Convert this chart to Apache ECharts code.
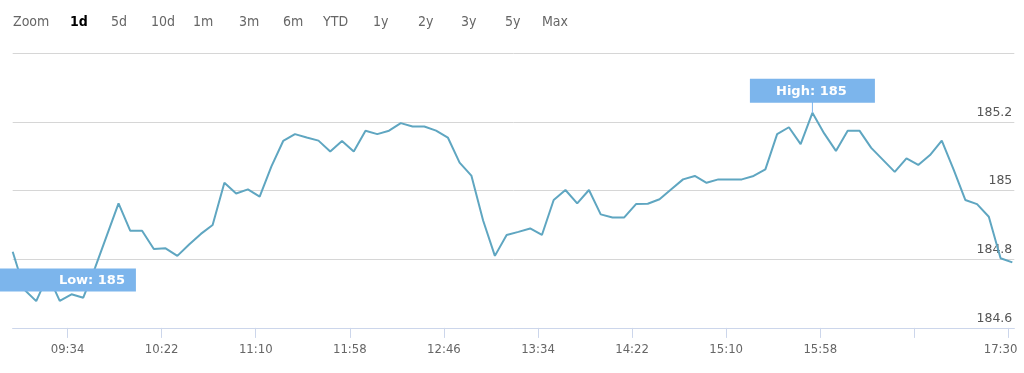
<!DOCTYPE html>
<html>
<head>
<meta charset="utf-8">
<script src="https://cdn.jsdelivr.net/npm/echarts@6/dist/echarts.min.js"></script>
<style>
html,body{margin:0;padding:0;background:#fff;}
#chart{width:1024px;height:373px;}
</style>
</head>
<body>
<div id="chart"></div>
<script>
// ---- data ----
const times = [
  '09:06','09:12','09:18','09:24','09:30','09:36','09:42','09:48','09:54',
  '10:00','10:06','10:12','10:18','10:24','10:30','10:36','10:42','10:48','10:54',
  '11:00','11:06','11:12','11:18','11:24','11:30','11:36','11:42','11:48','11:54',
  '12:00','12:06','12:12','12:18','12:24','12:30','12:36','12:42','12:48','12:54',
  '13:00','13:06','13:12','13:18','13:24','13:30','13:36','13:42','13:48','13:54',
  '14:00','14:06','14:12','14:18','14:24','14:30','14:36','14:42','14:48','14:54',
  '15:00','15:06','15:12','15:18','15:24','15:30','15:36','15:42','15:48','15:54',
  '16:00','16:06','16:12','16:18','16:24','16:30','16:36','16:42','16:48','16:54',
  '17:00','17:06','17:12','17:18','17:24','17:30','17:36'
];
const prices = [
  184.822,184.711,184.678,184.754,184.679,184.698,184.688,184.775,184.869,
  184.963,184.883,184.883,184.830,184.832,184.810,184.843,184.874,184.900,185.023,
  184.992,185.004,184.983,185.071,185.145,185.165,185.155,185.146,185.114,185.145,
  185.114,185.175,185.165,185.175,185.197,185.187,185.187,185.175,185.155,185.082,
  185.044,184.913,184.810,184.871,184.880,184.890,184.871,184.973,185.002,184.963,
  185.002,184.931,184.922,184.922,184.961,184.962,184.975,185.004,185.033,185.043,
  185.023,185.033,185.033,185.033,185.043,185.062,185.165,185.185,185.136,185.227,
  185.167,185.116,185.175,185.175,185.125,185.090,185.055,185.094,185.075,185.104,
  185.146,185.062,184.973,184.961,184.924,184.803,184.791
];
const xTickTimes = ['09:34','10:22','11:10','11:58','12:46','13:34','14:22','15:10','15:58','16:46','17:34'];
const xLabelTimes = ['09:34','10:22','11:10','11:58','12:46','13:34','14:22','15:10','15:58','17:30'];
const yTicks = [184.6, 184.8, 185, 185.2, 185.4];
const rangeButtons = ['Zoom','1d','5d','10d','1m','3m','6m','YTD','1y','2y','3y','5y','Max'];
const selectedButton = '1d';

// ---- helpers ----
function toMin(t){ const p = t.split(':'); return (+p[0])*60 + (+p[1]); }
function fmtMin(m){ const h = Math.floor(m/60), mm = Math.round(m%60); return (h<10?'0':'')+h+':'+(mm<10?'0':'')+mm; }

const seriesData = times.map((t,i)=>[toMin(t), prices[i]]);

// layout of the range selector (x positions of each text)
const buttonX = [13, 70, 111, 151, 193, 239, 283, 323, 373, 418, 461, 505, 542];

const chart = echarts.init(document.getElementById('chart'), null, {renderer:'canvas'});
const axisFont = '"DejaVu Sans Condensed", "DejaVu Sans", sans-serif';

chart.setOption({
  animation: false,
  backgroundColor: '#fff',
  grid: { left: 12.7, right: 9.7, top: 53.5, bottom: 45.1, containLabel: false },
  graphic: rangeButtons.map((b,i)=>({
    type: 'text', left: buttonX[i], top: 15,
    style: {
      text: b, fill: b===selectedButton ? '#000' : '#666',
      font: (b===selectedButton ? 'bold ' : '') + '14px ' + axisFont
    }
  })),
  xAxis: {
    type: 'value',
    min: toMin(times[0]),
    max: toMin(times[times.length-1]) + 1,
    axisLine: { show: true, lineStyle: { color: '#ccd6eb', width: 1 } },
    axisTick: { show: true, length: 10, customValues: xTickTimes.map(toMin), lineStyle: { color: '#ccd6eb' } },
    axisLabel: {
      customValues: xLabelTimes.map(toMin),
      formatter: v => fmtMin(v),
      color: '#666', fontSize: 13, fontFamily: axisFont, margin: 15
    },
    splitLine: { show: false }
  },
  yAxis: {
    type: 'value', position: 'right',
    min: yTicks[0], max: yTicks[yTicks.length-1], interval: 0.2,
    axisLine: { show: false }, axisTick: { show: false },
    splitLine: { show: true, lineStyle: { color: '#d6d6d6', width: 1 } },
    axisLabel: {
      inside: true, margin: 2, verticalAlign: 'bottom', padding: [0,0,3,0],
      showMaxLabel: false,
      formatter: v => String(+v.toFixed(1)),
      color: '#555', fontSize: 12.5, fontFamily: '"DejaVu Sans", sans-serif'
    }
  },
  series: [{
    type: 'line',
    data: seriesData,
    showSymbol: false,
    lineStyle: { color: '#5fa6c1', width: 2 },
    itemStyle: { color: '#5fa6c1' },
    markPoint: {
      data: [
        {
          type: 'min', valueIndex: 1,
          symbol: 'rect', symbolSize: [136, 23], symbolOffset: [31.7, -21.2],
          itemStyle: { color: '#7cb5ec' },
          label: { show: true, position: 'inside', offset: [24, 1], color: '#fff', fontWeight: 'bold', fontSize: 13, fontFamily: '"DejaVu Sans", sans-serif',
                   formatter: p => 'Low: ' + Math.round(p.value) }
        },
        {
          type: 'max', valueIndex: 1,
          symbol: 'path://M0 0H125V24H63V34H62V24H0Z', symbolKeepAspect: false,
          symbolSize: [125, 34], symbolOffset: [0, -17],
          itemStyle: { color: '#7cb5ec' },
          label: { show: true, position: 'inside', offset: [-1, -4], color: '#fff', fontWeight: 'bold', fontSize: 13, fontFamily: '"DejaVu Sans", sans-serif',
                   formatter: p => 'High: ' + Math.round(p.value) }
        }
      ]
    }
  }]
});
</script>
</body>
</html>
